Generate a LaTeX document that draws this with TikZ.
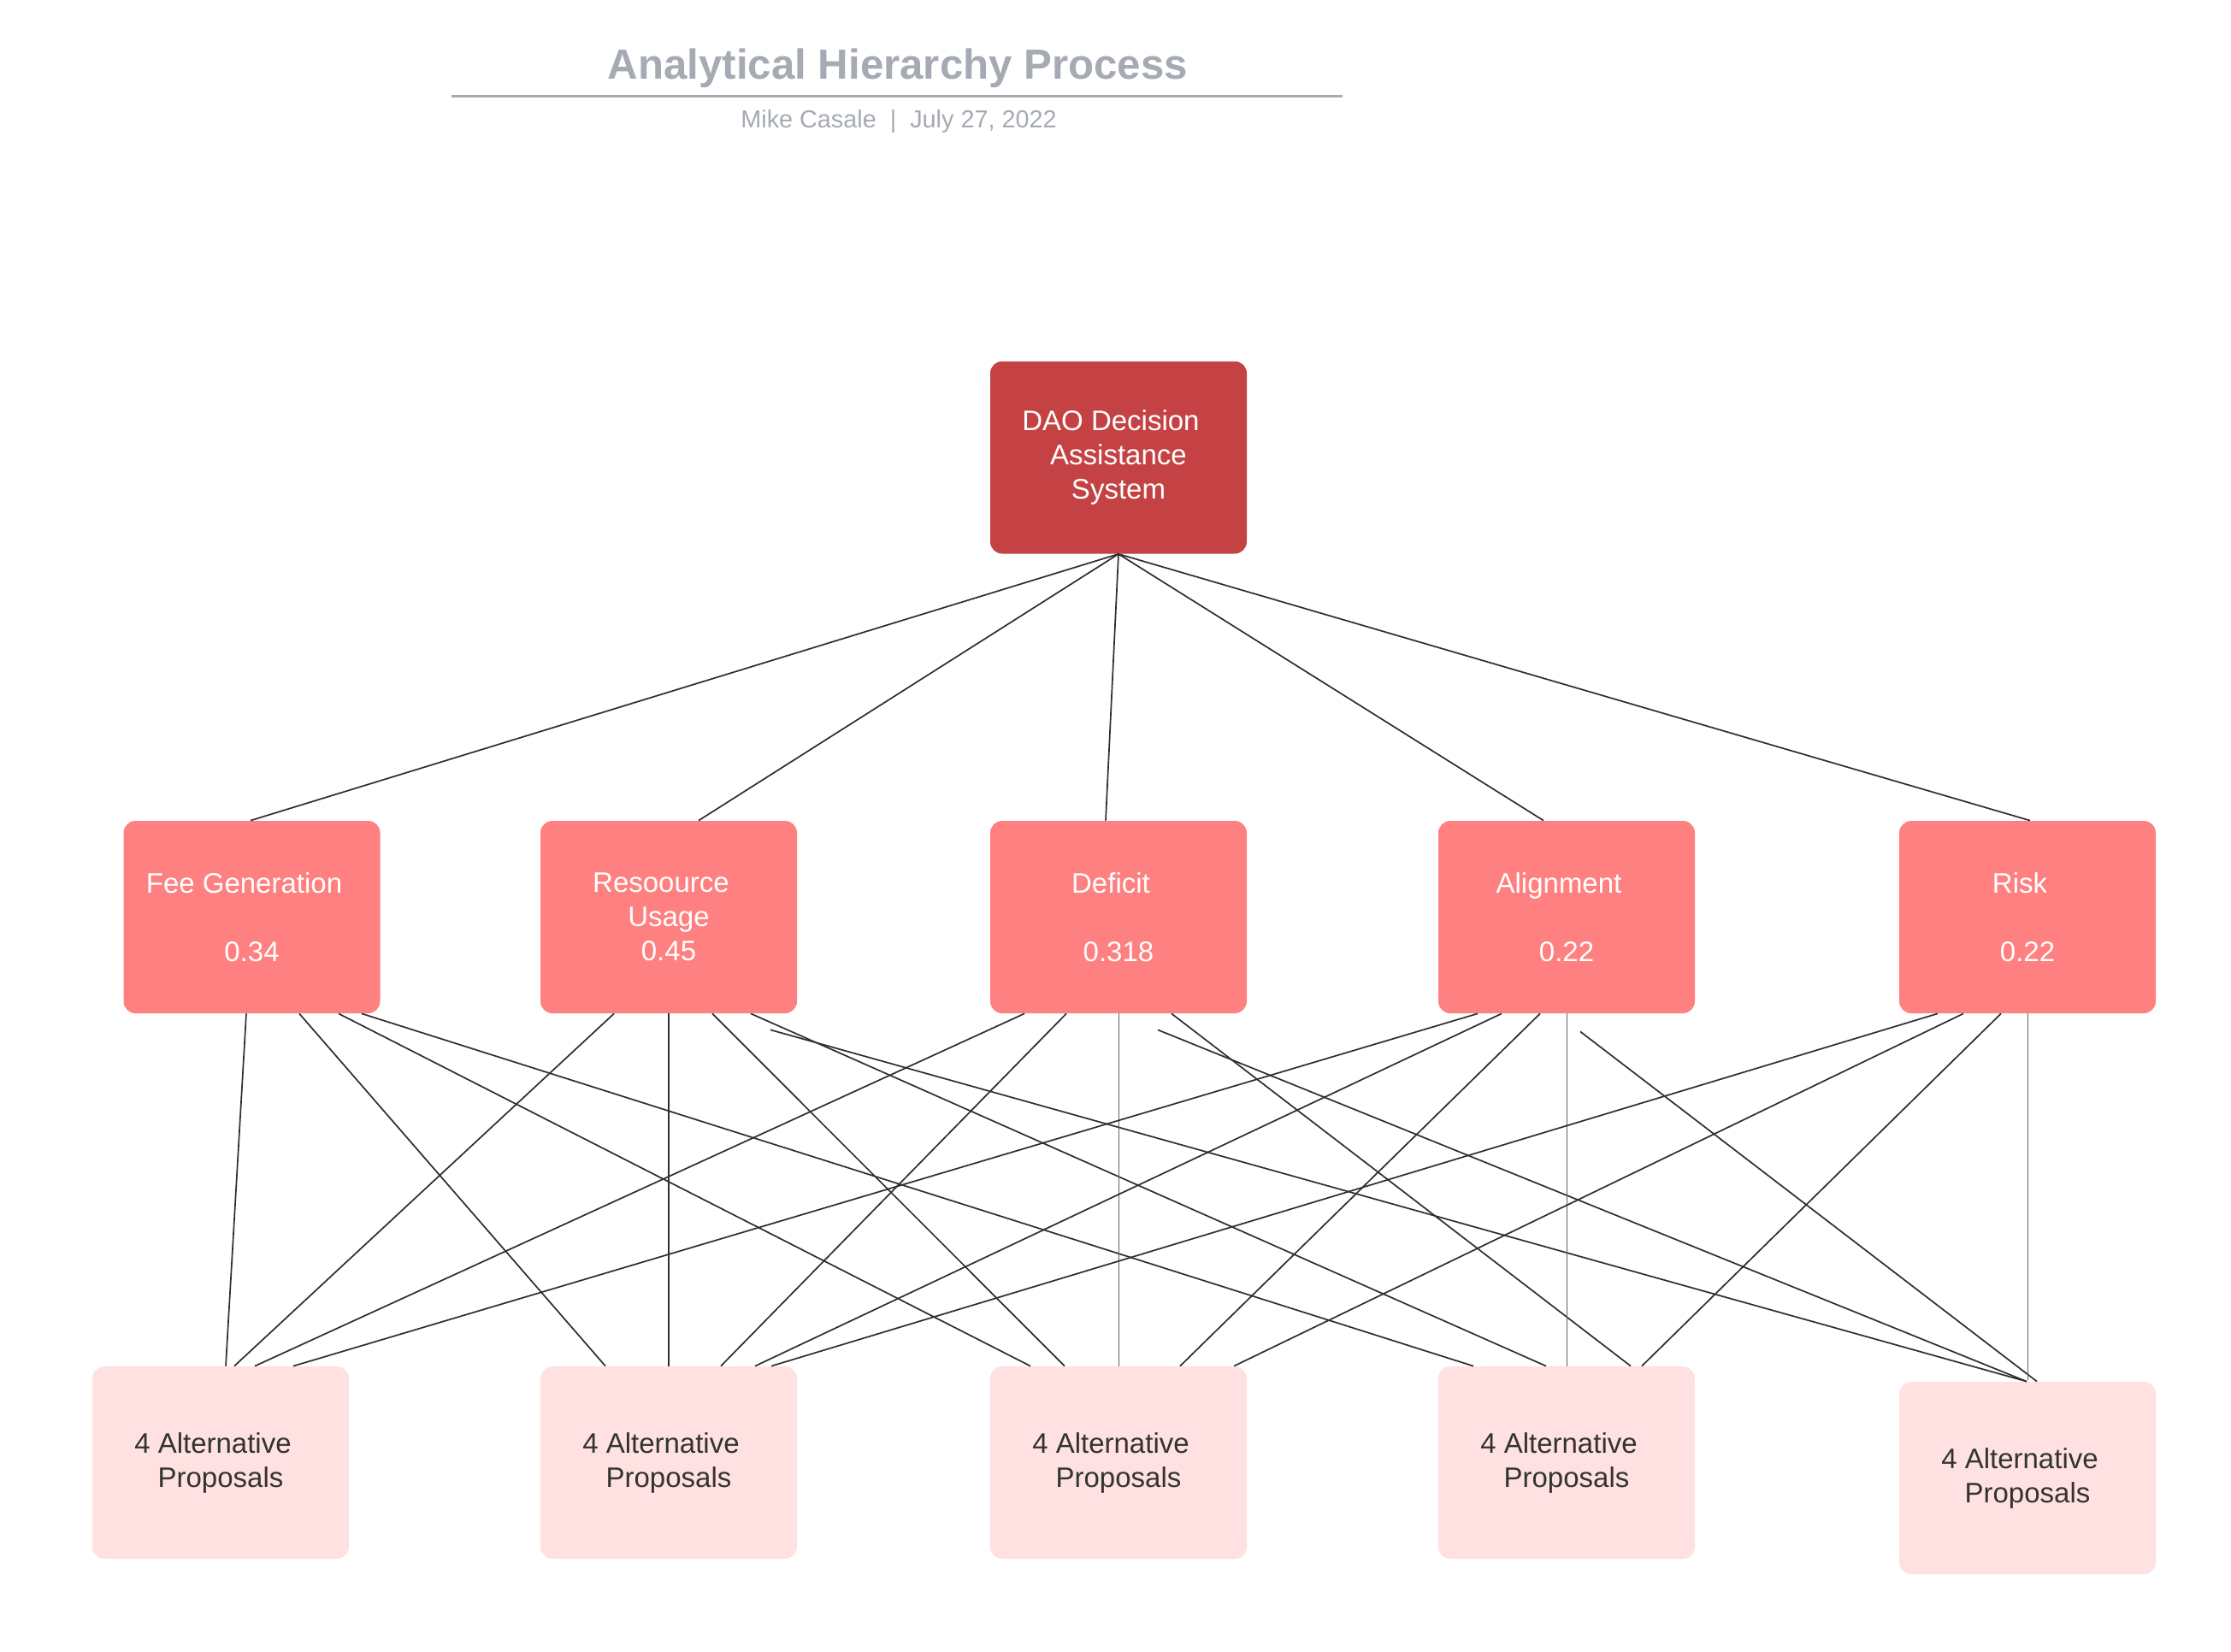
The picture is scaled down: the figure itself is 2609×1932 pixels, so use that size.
\documentclass[tikz,border=0pt]{standalone}
\usepackage{fontspec}
\setmainfont{Liberation Sans}
\usetikzlibrary{calc}
\definecolor{daored}{HTML}{C44244}
\definecolor{critred}{HTML}{FF8080}
\definecolor{altpink}{HTML}{FFE1E1}
\definecolor{titlegray}{HTML}{A5AAB3}
\definecolor{linegray}{HTML}{2E2E2E}
\definecolor{alttext}{HTML}{333333}
\newcommand{\shl}{\hspace*{9pt}}
\begin{document}
\begin{tikzpicture}[x=0.5pt,y=-0.5pt,
  box/.style={rectangle, rounded corners=7pt, minimum width=150pt, minimum height=112.5pt, inner sep=0pt, align=center, font=\fontsize{16.5}{20}\selectfont},
  topbox/.style={box, fill=daored, text=white},
  critbox/.style={box, fill=critred, text=white},
  altbox/.style={box, fill=altpink, text=alttext},
  conn/.style={draw=linegray, line width=0.85pt},
  thinconn/.style={draw=linegray!75, line width=0.5pt},
]
\useasboundingbox (0,0) rectangle (2609,1932);
\fill[white] (0,0) rectangle (2609,1932);

% title block
\node[anchor=base, font=\fontsize{24.6}{28}\selectfont\bfseries, text=titlegray] (title) at (1050,93) {Analytical Hierarchy Process};
\coordinate (ulA) at (528,112.5);
\coordinate (ulB) at (1570,112.5);
\draw[titlegray, line width=1.7pt] (ulA) -- (ulB);
\node[anchor=base, font=\fontsize{14.4}{16}\selectfont, text=titlegray] (sub) at (1051,150) {Mike Casale\ \ |\ \ July 27, 2022};

% nodes
\node[topbox] (dao) at (1308,535) {DAO Decision\shl\\Assistance\\System};

\node[critbox] (fee) at (294.5,1072.5) {Fee Generation\shl\\[20pt]0.34};
\node[critbox] (res) at (782,1072.5) {Resoource\shl\\Usage\\0.45};
\node[critbox] (def) at (1308,1072.5) {Deficit\shl\\[20pt]0.318};
\node[critbox] (ali) at (1832,1072.5) {Alignment\shl\\[20pt]0.22};
\node[critbox] (risk) at (2371,1072.5) {Risk\shl\\[20pt]0.22};

\node[altbox] (alt1) at (258,1710.5) {4 Alternative\shl\\Proposals};
\node[altbox] (alt2) at (782,1710.5) {4 Alternative\shl\\Proposals};
\node[altbox] (alt3) at (1308,1710.5) {4 Alternative\shl\\Proposals};
\node[altbox] (alt4) at (1832,1710.5) {4 Alternative\shl\\Proposals};
\node[altbox] (alt5) at (2371,1728.5) {4 Alternative\shl\\Proposals};

% top connectors
\draw[conn] (dao.south) -- ($(fee.north)+(-1.5,0)$);
\draw[conn] (dao.south) -- ($(res.north)+(35,0)$);
\draw[conn] (dao.south) -- ($(def.north)+(-15,0)$);
\draw[conn] (dao.south) -- ($(ali.north)+(-27,0)$);
\draw[conn] (dao.south) -- ($(risk.north)+(3,0)$);

% free starts of detached connectors
\coordinate (resx) at ($(res.south)+(119,19)$);
\coordinate (defx) at ($(def.south)+(46,19)$);
\coordinate (alix) at ($(ali.south)+(16,21)$);

% Fee Generation
\draw[conn] ($(fee.south)+(-6.5,0)$) -- ($(alt1.north)+(6,0)$);
\draw[conn] ($(fee.south)+(55.5,0)$) -- ($(alt2.north)+(-74,0)$);
\draw[conn] ($(fee.south)+(101.5,0)$) -- ($(alt3.north)+(-103,0)$);
\draw[conn] ($(fee.south)+(128.5,0)$) -- ($(alt4.north)+(-109,0)$);

% Resource Usage
\draw[conn] ($(res.south)+(-64,0)$) -- ($(alt1.north)+(16,0)$);
\draw[conn] (res.south) -- (alt2.north);
\draw[conn] ($(res.south)+(51,0)$) -- ($(alt3.north)+(-63,0)$);
\draw[conn] ($(res.south)+(96,0)$) -- ($(alt4.north)+(-24,0)$);
\draw[conn] (resx) -- ($(alt5.north)+(-1,0)$);

% Deficit
\draw[conn] ($(def.south)+(-110,0)$) -- ($(alt1.north)+(40,0)$);
\draw[conn] ($(def.south)+(-61,0)$) -- ($(alt2.north)+(61,0)$);
\draw[thinconn] (def.south) -- (alt3.north);
\draw[conn] ($(def.south)+(62,0)$) -- ($(alt4.north)+(75,0)$);
\draw[conn] (defx) -- ($(alt5.north)+(-1,0)$);

% Alignment
\draw[conn] ($(ali.south)+(-104,0)$) -- ($(alt1.north)+(85,0)$);
\draw[conn] ($(ali.south)+(-76,0)$) -- ($(alt2.north)+(101,0)$);
\draw[conn] ($(ali.south)+(-31,0)$) -- ($(alt3.north)+(72,0)$);
\draw[thinconn] (ali.south) -- (alt4.north);
\draw[conn] (alix) -- ($(alt5.north)+(11,0)$);

% Risk
\draw[conn] ($(risk.south)+(-105,0)$) -- ($(alt2.north)+(120,0)$);
\draw[conn] ($(risk.south)+(-75,0)$) -- ($(alt3.north)+(135,0)$);
\draw[conn] ($(risk.south)+(-31,0)$) -- ($(alt4.north)+(88,0)$);
\draw[thinconn] (risk.south) -- ($(alt5.north)+(0,-2)$);
\end{tikzpicture}
\end{document}
